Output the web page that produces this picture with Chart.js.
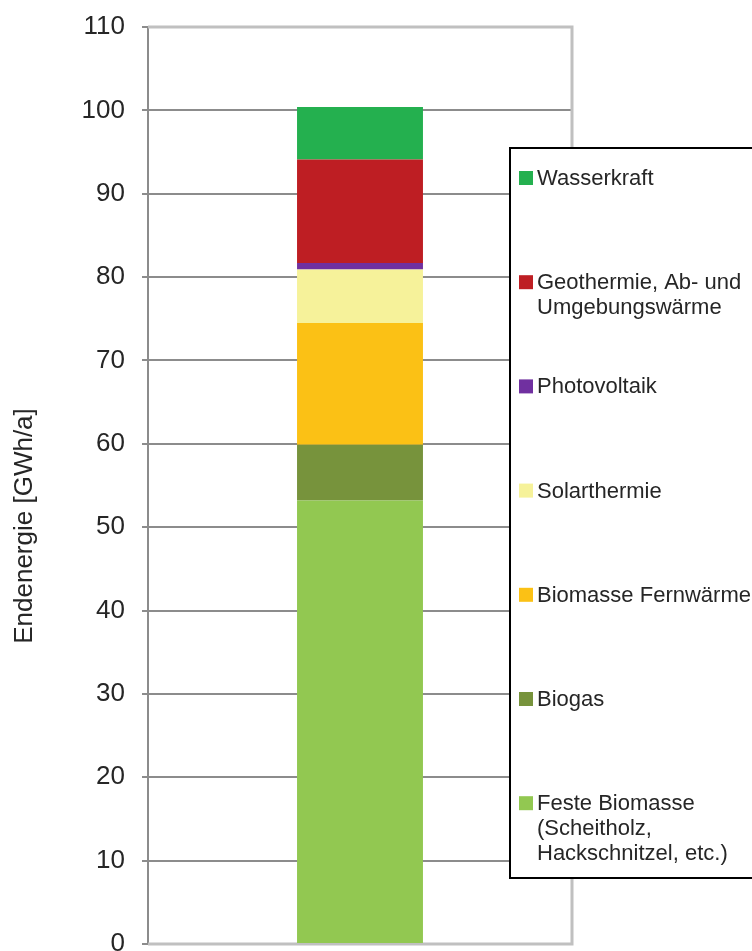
<!DOCTYPE html>
<html>
<head>
<meta charset="utf-8">
<script src="https://cdn.jsdelivr.net/npm/chart.js@4.4.1/dist/chart.umd.min.js"></script>
<style>
  html, body { margin: 0; padding: 0; background: #fff; }
  #wrap { width: 752px; height: 951px; position: relative; }
</style>
</head>
<body>
<div id="wrap"><canvas id="energy-chart"></canvas></div>
<script>
// Endenergie nach Energieträger (gestapelte Säule)
const categories = [''];
const seriesNames = [
    'Feste Biomasse',
    'Biogas',
    'Biomasse Fernwärme',
    'Solarthermie',
    'Photovoltaik',
    'Geothermie, Ab- und Umgebungswärme',
    'Wasserkraft'
];
const legendLines = [
    ['Feste Biomasse', '(Scheitholz,', 'Hackschnitzel, etc.)'],
    ['Biogas'],
    ['Biomasse Fernwärme'],
    ['Solarthermie'],
    ['Photovoltaik'],
    ['Geothermie, Ab- und', 'Umgebungswärme'],
    ['Wasserkraft']
];
const feste = [53.2];
const biogas = [6.7];
const fernwaerme = [14.6];
const solar = [6.4];
const pv = [0.8];
const geo = [12.4];
const wasser = [6.3];
const yTicks = [0, 10, 20, 30, 40, 50, 60, 70, 80, 90, 100, 110];

const seriesValues = [feste, biogas, fernwaerme, solar, pv, geo, wasser];
const colors = ['#92c851', '#77933c', '#fbc115', '#f6f29a', '#7030a0', '#be1e23', '#24b04f'];

const FONT = '"Liberation Sans", Arial, sans-serif';

// frame around plot area (light gray) + y title
const framePlugin = {
    id: 'frame',
    beforeDatasetsDraw(chart) {
        const a = chart.chartArea;
        const c = chart.ctx;
        c.save();
        c.strokeStyle = '#c0c0c0';
        c.lineWidth = 3;
        c.beginPath();
        c.moveTo(a.left, a.top);
        c.lineTo(a.right, a.top);
        c.lineTo(a.right, a.bottom);
        c.lineTo(a.left, a.bottom);
        c.stroke();
        c.restore();
    },
    afterDraw(chart) {
        const c = chart.ctx;
        c.save();
        c.translate(25, 526);
        c.rotate(-Math.PI / 2);
        c.fillStyle = '#262626';
        c.font = '26px ' + FONT;
        c.textAlign = 'center';
        c.textBaseline = 'middle';
        c.fillText('Endenergie [GWh/a]', 0, 0);
        c.restore();
    }
};

// legend box drawn on top, reversed order like the source
const boxLegend = {
    id: 'boxLegend',
    afterDraw(chart) {
        const c = chart.ctx;
        const x = 510, y = 148, w = 260, h = 730;
        c.save();
        c.fillStyle = '#fff';
        c.fillRect(x, y, w, h);
        c.strokeStyle = '#000';
        c.lineWidth = 2;
        c.strokeRect(x, y, w, h);
        c.font = '22px ' + FONT;
        c.textBaseline = 'middle';
        const n = chart.data.datasets.length;
        for (let i = 0; i < n; i++) {
            const ds = chart.data.datasets[n - 1 - i];
            const cy = 178 + i * 104.2;
            c.fillStyle = ds.backgroundColor;
            c.fillRect(519, cy - 7, 14, 14);
            c.fillStyle = '#262626';
            ds.legendLines.forEach((t, k) => c.fillText(t, 537, cy + 1 + k * 25));
        }
        c.restore();
    }
};

const chart = new Chart(document.getElementById('energy-chart'), {
    type: 'bar',
    data: {
        labels: categories,
        datasets: seriesNames.map((name, i) => ({
            label: name,
            legendLines: legendLines[i],
            data: seriesValues[i],
            backgroundColor: colors[i],
            borderWidth: 0,
            barPercentage: 0.297,
            categoryPercentage: 1
        }))
    },
    options: {
        responsive: true,
        maintainAspectRatio: false,
        animation: false,
        layout: {
            padding: { top: 27, right: 180, bottom: 7, left: 0 }
        },
        plugins: {
            legend: { display: false },
            tooltip: { enabled: false }
        },
        scales: {
            x: {
                stacked: true,
                display: false
            },
            y: {
                stacked: true,
                min: 0,
                max: 110,
                afterBuildTicks(scale) {
                    scale.ticks = yTicks.map(v => ({ value: v }));
                },
                afterFit(scale) {
                    scale.width = 148;
                    scale.paddingTop = 0;
                    scale.paddingBottom = 0;
                },
                grid: {
                    color: ctx => (ctx.tick && (ctx.tick.value === 0 || ctx.tick.value === 110)) ? 'rgba(0,0,0,0)' : '#8c8c8c',
                    tickColor: '#8c8c8c',
                    lineWidth: 2,
                    tickLength: 6
                },
                border: { color: '#8c8c8c', width: 2 },
                ticks: {
                    padding: 17,
                    color: '#262626',
                    font: { family: FONT, size: 26 }
                }
            }
        }
    },
    plugins: [framePlugin, boxLegend]
});
</script>
</body>
</html>
